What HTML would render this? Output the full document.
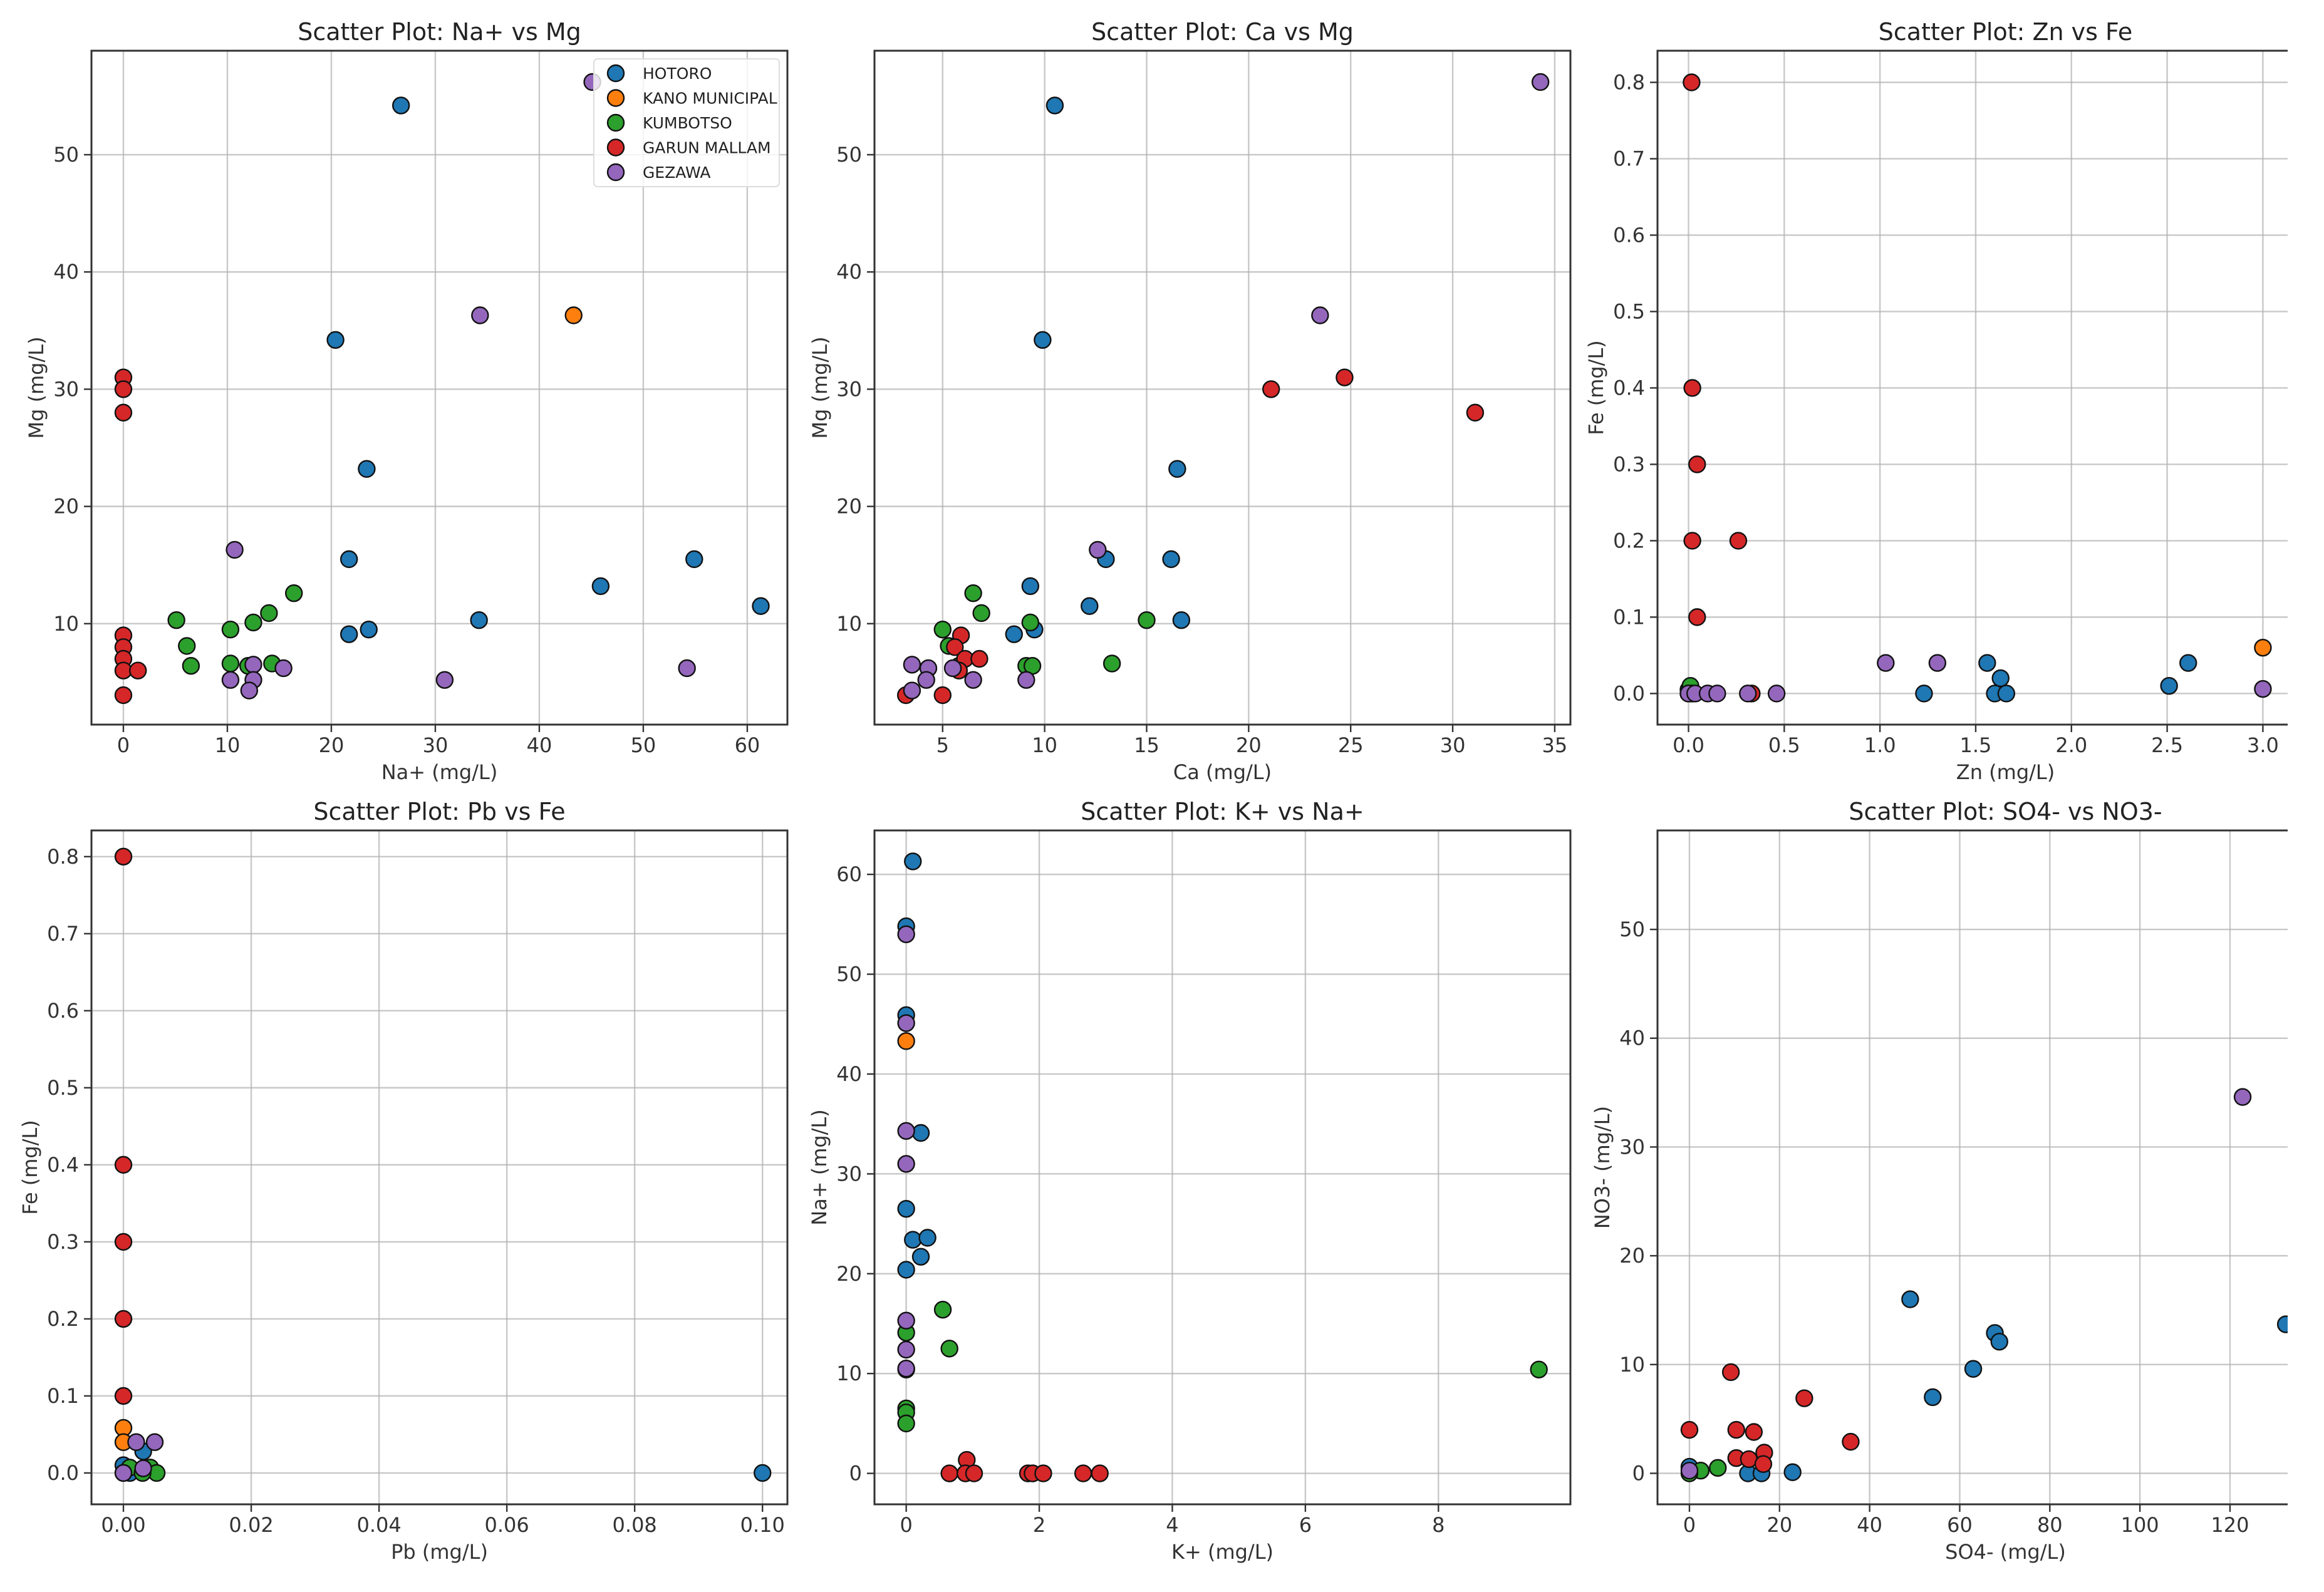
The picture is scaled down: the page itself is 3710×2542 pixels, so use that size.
<!DOCTYPE html>
<html>
<head>
<meta charset="utf-8">
<style>
  html,body{margin:0;padding:0;background:#fff;}
  #wrap{position:relative;width:3710px;height:2542px;overflow:hidden;background:#fff;}
  svg text{font-family:"DejaVu Sans","Liberation Sans",sans-serif;}
  #mask{position:absolute;left:3652px;top:0;width:58px;height:2542px;background:#fff;}
</style>
</head>
<body>
<div id="wrap">
<svg id="fig" width="3710" height="2542" viewBox="0 0 3710 2542" xmlns="http://www.w3.org/2000/svg"></svg>
<div id="mask"></div>
</div>
<script>
// ---------- data ----------
const groups = ["HOTORO","KANO MUNICIPAL","KUMBOTSO","GARUN MALLAM","GEZAWA"];
const colors = ["#1f77b4","#ff7f0e","#2ca02c","#d62728","#9467bd"];

// Panel 1: Na+ vs Mg
const p1Hotoro = [[26.7,54.2],[20.4,34.2],[23.4,23.2],[21.7,15.5],[21.7,9.1],[23.6,9.5],[34.2,10.3],[45.9,13.2],[54.9,15.5],[61.3,11.5]];
const p1Kano = [[43.3,36.3]];
const p1Kumbotso = [[5.1,10.3],[6.1,8.1],[6.5,6.4],[10.3,9.5],[10.3,6.6],[12.5,10.1],[14.0,10.9],[16.4,12.6],[14.3,6.6],[12.0,6.4]];
const p1Garun = [[0,31.0],[0,30.0],[0,28.0],[0,9.0],[0,8.0],[0,7.0],[0,6.0],[0,3.9],[1.4,6.0]];
const p1Gezawa = [[45.1,56.2],[34.3,36.3],[10.7,16.3],[12.5,6.5],[15.4,6.2],[10.3,5.2],[12.5,5.2],[12.1,4.3],[30.9,5.2],[54.2,6.2]];

// Panel 2: Ca vs Mg
const p2Hotoro = [[10.5,54.2],[9.9,34.2],[16.5,23.2],[13.0,15.5],[16.2,15.5],[9.3,13.2],[12.2,11.5],[16.7,10.3],[8.5,9.1],[9.5,9.5]];
const p2Kano = [];
const p2Kumbotso = [[5.0,9.5],[5.3,8.1],[6.5,12.6],[6.9,10.9],[9.3,10.1],[15.0,10.3],[9.1,6.4],[9.4,6.4],[13.3,6.6],[5.8,6.4]];
const p2Garun = [[21.1,30.0],[24.7,31.0],[31.1,28.0],[5.9,9.0],[5.6,8.0],[6.1,7.0],[6.8,7.0],[5.8,6.0],[3.2,3.9],[5.0,3.9]];
const p2Gezawa = [[34.3,56.2],[23.5,36.3],[12.6,16.3],[3.5,6.5],[4.3,6.2],[5.5,6.2],[4.2,5.2],[6.5,5.2],[9.1,5.2],[3.5,4.3]];

// Panel 3: Zn vs Fe
const p3Hotoro = [[1.23,0.0],[1.56,0.04],[1.63,0.02],[1.60,0.0],[1.66,0.0],[2.51,0.01],[2.61,0.04],[0.0,0.005]];
const p3Kano = [[3.0,0.06]];
const p3Kumbotso = [[0.01,0.01],[0.0,0.0],[0.02,0.0]];
const p3Garun = [[0.016,0.8],[0.02,0.4],[0.045,0.3],[0.02,0.2],[0.26,0.2],[0.045,0.1],[0.33,0.0],[0.01,0.0]];
const p3Gezawa = [[1.03,0.04],[1.30,0.04],[3.0,0.006],[0.0,0.0],[0.035,0.0],[0.10,0.0],[0.15,0.0],[0.31,0.0],[0.46,0.0]];

// Panel 4: Pb vs Fe
const p4Hotoro = [[0.0031,0.028],[0.0,0.01],[0.001,0.0],[0.1,0.0]];
const p4Kano = [[0.0,0.0585],[0.0,0.04]];
const p4Kumbotso = [[0.001,0.007],[0.0042,0.007],[0.0052,0.0],[0.003,0.0]];
const p4Garun = [[0,0.8],[0,0.4],[0,0.3],[0,0.2],[0,0.1],[0,0.0]];
const p4Gezawa = [[0.002,0.04],[0.0049,0.04],[0.0,0.0],[0.0031,0.006]];

// Panel 5: K+ vs Na+
const p5Hotoro = [[0.1,61.3],[0,54.8],[0,45.9],[0.22,34.1],[0,26.5],[0.1,23.4],[0.32,23.6],[0.22,21.7],[0,20.4]];
const p5Kano = [[0,43.3]];
const p5Kumbotso = [[0.55,16.4],[0.65,12.5],[0,14.1],[0,6.5],[0,6.1],[0,5.0],[9.51,10.4],[0,10.4]];
const p5Garun = [[0.91,1.35],[0.65,0],[0.89,0],[1.02,0],[1.83,0],[1.9,0],[2.06,0],[2.66,0],[2.91,0]];
const p5Gezawa = [[0,54.0],[0,45.1],[0,34.3],[0,31.0],[0,15.3],[0,12.4],[0,10.5]];

// Panel 6: SO4- vs NO3-
const p6Hotoro = [[49.0,16.0],[54.0,7.0],[63.0,9.6],[67.8,12.9],[68.8,12.1],[22.9,0.1],[13.0,0],[16.0,0],[0,0.6],[132.4,13.7]];
const p6Kano = [];
const p6Kumbotso = [[6.3,0.5],[2.5,0.25],[0,0]];
const p6Garun = [[0,4.0],[9.2,9.3],[10.4,4.0],[14.3,3.8],[25.5,6.9],[35.8,2.9],[10.4,1.4],[13.2,1.3],[16.6,1.9],[16.4,0.85]];
const p6Gezawa = [[122.8,34.6],[0,0.25]];

// tick labels
const p1XTicks = ["0","10","20","30","40","50","60"];
const p1YTicks = ["10","20","30","40","50"];
const p2XTicks = ["5","10","15","20","25","30","35"];
const p2YTicks = ["10","20","30","40","50"];
const p3XTicks = ["0.0","0.5","1.0","1.5","2.0","2.5","3.0"];
const p3YTicks = ["0.0","0.1","0.2","0.3","0.4","0.5","0.6","0.7","0.8"];
const p4XTicks = ["0.00","0.02","0.04","0.06","0.08","0.10"];
const p4YTicks = ["0.0","0.1","0.2","0.3","0.4","0.5","0.6","0.7","0.8"];
const p5XTicks = ["0","2","4","6","8"];
const p5YTicks = ["0","10","20","30","40","50","60"];
const p6XTicks = ["0","20","40","60","80","100","120","140"];
const p6YTicks = ["0","10","20","30","40","50"];

// ---------- layout ----------
const NS = "http://www.w3.org/2000/svg";
const svg = document.getElementById("fig");
function mk(tag, attrs, parent){
  const e = document.createElementNS(NS, tag);
  for (const k in attrs) e.setAttribute(k, attrs[k]);
  (parent||svg).appendChild(e);
  return e;
}

const panels = [
  {key:"na-vs-mg", title:"Scatter Plot: Na+ vs Mg", xl:"Na+ (mg/L)", yl:"Mg (mg/L)", l:146, t:81, w:1111, h:1076, xd:[-3.07,63.86], yd:[1.39,58.87], xt:p1XTicks, yt:p1YTicks, ylOff:88, series:[p1Hotoro,p1Kano,p1Kumbotso,p1Garun,p1Gezawa], legend:true},
  {key:"ca-vs-mg", title:"Scatter Plot: Ca vs Mg", xl:"Ca (mg/L)", yl:"Mg (mg/L)", l:1396, t:81, w:1111, h:1076, xd:[1.66,35.77], yd:[1.39,58.87], xt:p2XTicks, yt:p2YTicks, ylOff:87, series:[p2Hotoro,p2Kano,p2Kumbotso,p2Garun,p2Gezawa]},
  {key:"zn-vs-fe", title:"Scatter Plot: Zn vs Fe", xl:"Zn (mg/L)", yl:"Fe (mg/L)", l:2646, t:81, w:1111, h:1076, xd:[-0.162,3.473], yd:[-0.0407,0.8414], xt:p3XTicks, yt:p3YTicks, ylOff:98, series:[p3Hotoro,p3Kano,p3Kumbotso,p3Garun,p3Gezawa]},
  {key:"pb-vs-fe", title:"Scatter Plot: Pb vs Fe", xl:"Pb (mg/L)", yl:"Fe (mg/L)", l:146, t:1326, w:1111, h:1076, xd:[-0.005,0.1039], yd:[-0.0407,0.834], xt:p4XTicks, yt:p4YTicks, ylOff:98, series:[p4Hotoro,p4Kano,p4Kumbotso,p4Garun,p4Gezawa]},
  {key:"k-vs-na", title:"Scatter Plot: K+ vs Na+", xl:"K+ (mg/L)", yl:"Na+ (mg/L)", l:1396, t:1326, w:1111, h:1076, xd:[-0.477,9.984], yd:[-3.1,64.4], xt:p5XTicks, yt:p5YTicks, ylOff:88, series:[p5Hotoro,p5Kano,p5Kumbotso,p5Garun,p5Gezawa]},
  {key:"so4-vs-no3", title:"Scatter Plot: SO4- vs NO3-", xl:"SO4- (mg/L)", yl:"NO3- (mg/L)", l:2646, t:1326, w:1111, h:1076, xd:[-7.09,147.4], yd:[-2.85,59.1], xt:p6XTicks, yt:p6YTicks, ylOff:88, series:[p6Hotoro,p6Kano,p6Kumbotso,p6Garun,p6Gezawa]}
];

panels.forEach(function(p, pi){
  const g = mk("g", {});
  
  
  const sx = v => p.l + (v - p.xd[0]) / (p.xd[1] - p.xd[0]) * p.w;
  const sy = v => p.t + p.h - (v - p.yd[0]) / (p.yd[1] - p.yd[0]) * p.h;
  const b = p.t + p.h;
  const clipId = "clip" + pi;
  const cp = mk("clipPath", {id: clipId}, g);
  mk("rect", {x:p.l, y:p.t, width:p.w, height:p.h}, cp);

  // grid + ticks
  p.xt.forEach(function(lbl){
    const x = sx(parseFloat(lbl));
    if (x < p.l - 1 || x > p.l + p.w + 1) return;
    const gl = mk("line", {x1:x, x2:x, y1:p.t, y2:b, stroke:"#b0b0b0", "stroke-opacity":"0.7", "stroke-width":"2.4"}, g);
    
    
    mk("line", {x1:x, x2:x, y1:b, y2:b+12, stroke:"#333", "stroke-width":"2.4"}, g);
    const t = mk("text", {x:x, y:b+44, "text-anchor":"middle", "font-size":"32", fill:"#333"}, g);
    t.textContent = lbl;
    
    
  });
  p.yt.forEach(function(lbl){
    const y = sy(parseFloat(lbl));
    const gl = mk("line", {x1:p.l, x2:p.l+p.w, y1:y, y2:y, stroke:"#b0b0b0", "stroke-opacity":"0.7", "stroke-width":"2.4"}, g);
    
    
    mk("line", {x1:p.l-12, x2:p.l, y1:y, y2:y, stroke:"#333", "stroke-width":"2.4"}, g);
    const t = mk("text", {x:p.l-20, y:y+11, "text-anchor":"end", "font-size":"32", fill:"#333"}, g);
    t.textContent = lbl;
    
    
  });

  // points
  const pg = mk("g", {"clip-path":"url(#" + clipId + ")"}, g);
  p.series.forEach(function(arr, si){
    arr.forEach(function(d){
      const c = mk("circle", {cx:sx(d[0]), cy:sy(d[1]), r:13, fill:colors[si], stroke:"#111", "stroke-width":"2.4"}, pg);
      
      
    });
  });

  // frame
  const fr = mk("rect", {x:p.l, y:p.t, width:p.w, height:p.h, fill:"none", stroke:"#333", "stroke-width":"3"}, g);
  
  

  // title & labels
  const tt = mk("text", {x:p.l + p.w/2, y:p.t - 17, "text-anchor":"middle", "font-size":"38", fill:"#222"}, g);
  tt.textContent = p.title;
  
  
  const xl = mk("text", {x:p.l + p.w/2, y:b + 87, "text-anchor":"middle", "font-size":"32", fill:"#333"}, g);
  xl.textContent = p.xl;
  
  
  const cx = p.l - p.ylOff, cy = p.t + p.h/2;
  const yl = mk("text", {x:cx, y:cy, "text-anchor":"middle", "dominant-baseline":"central", "font-size":"32", fill:"#333", transform:"rotate(-90 " + cx + " " + cy + ")"}, g);
  yl.textContent = p.yl;
  
  

  // legend
  if (p.legend){
    const lg = mk("g", {}, g);
    
    
    mk("rect", {x:948, y:94, width:296, height:204, rx:6, fill:"#fff", "fill-opacity":"0.8", stroke:"#ddd", "stroke-width":"2"}, lg);
    groups.forEach(function(name, i){
      const y = 117 + i*39.5;
      const m = mk("circle", {cx:983, cy:y, r:13, fill:colors[i], stroke:"#111", "stroke-width":"2.4"}, lg);
      
      
      const t = mk("text", {x:1026, y:y+9, "font-size":"25", fill:"#222"}, lg);
      t.textContent = name;
      
      
    });
  }
});
</script>
</body>
</html>
